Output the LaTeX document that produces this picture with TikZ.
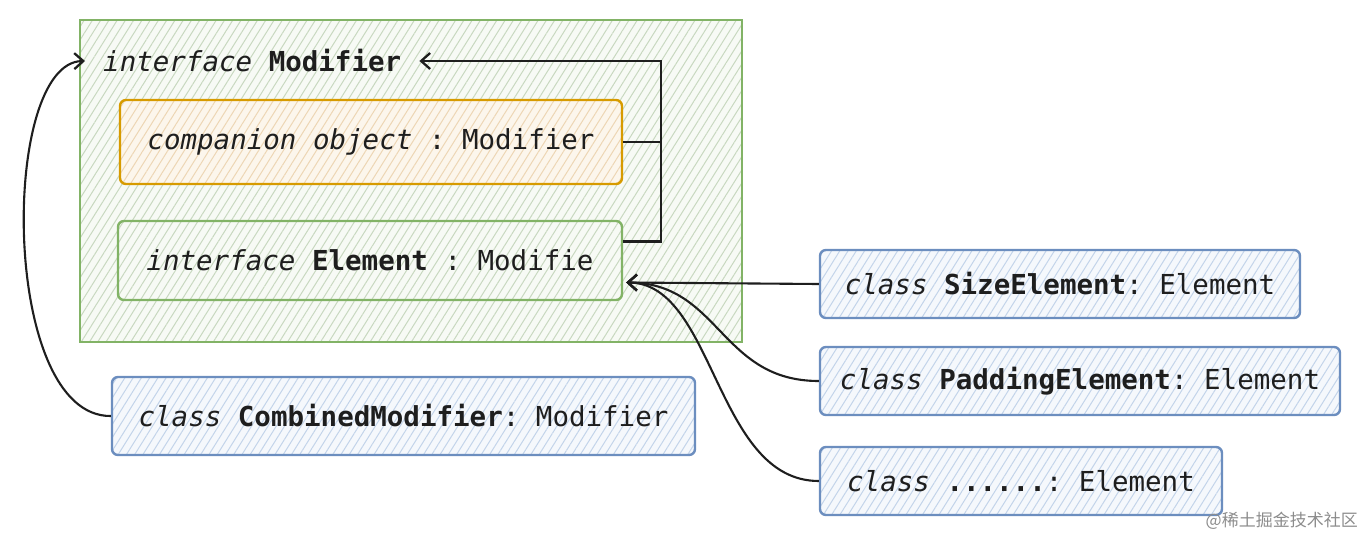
\documentclass[tikz,border=0pt]{standalone}
\usepackage{fontspec}
\setmonofont{DejaVu Sans Mono}
\newfontfamily\cjkfont{Noto Sans CJK SC}
\usetikzlibrary{arrows.meta,patterns.meta,calc}
\definecolor{gstroke}{HTML}{82B366}
\definecolor{gfill}{HTML}{F7FAF5}
\definecolor{ghatch}{HTML}{C8D8C0}
\definecolor{ostroke}{HTML}{D79B00}
\definecolor{ofill}{HTML}{FCF6EC}
\definecolor{ohatch}{HTML}{EDD6B4}
\definecolor{bstroke}{HTML}{6C8EBF}
\definecolor{bfill}{HTML}{F5F8FC}
\definecolor{bhatch}{HTML}{C3D4EA}
\definecolor{ink}{HTML}{1E1E1E}
\newcommand{\codefont}{\fontsize{27.5}{33}\selectfont\ttfamily}
\begin{document}
\begin{tikzpicture}[x=1pt,y=-1pt,
  every node/.style={text=ink},
  hatch/.style={pattern={Lines[angle=58,distance=7pt,line width=1pt]}, pattern color=#1},
  box/.style={draw, line width=2.4pt, rounded corners=6pt, font=\codefont, inner sep=0pt},
  gbox/.style={box, draw=gstroke, preaction={fill=gfill}, hatch=ghatch},
  obox/.style={box, draw=ostroke, preaction={fill=ofill}, hatch=ohatch},
  bbox/.style={box, draw=bstroke, preaction={fill=bfill}, hatch=bhatch},
  container/.style={draw=gstroke, line width=1.6pt, preaction={fill=gfill}, hatch=ghatch, inner sep=0pt},
  conn/.style={draw=ink, line width=2.1pt},
  tip/.style={-{Straight Barb[length=9pt,width=16pt,line width=2.3pt]}}
]
\useasboundingbox (0,0) rectangle (1364,538);

% container
\node[container, minimum width=662pt, minimum height=322pt] (cont) at (411,181) {};
\node[font=\codefont, anchor=west, inner xsep=18pt, inner ysep=2pt] (mod) at (85,61) {\textit{interface} \textbf{Modifier}};

% inner boxes
\node[obox, minimum width=502pt, minimum height=84pt] (comp) at (371,142) {\textit{companion object} : Modifier};
\node[gbox, minimum width=504pt, minimum height=79pt] (elem) at (370,260.5) {\textit{interface} \textbf{Element} : Modifie};

% element classes
\node[bbox, minimum width=480pt, minimum height=68pt] (size) at (1060,284) {\textit{class} \textbf{SizeElement}: Element};
\node[bbox, minimum width=520pt, minimum height=68pt] (pad) at (1080,381) {\textit{class} \textbf{PaddingElement}: Element};
\node[bbox, minimum width=402pt, minimum height=68pt] (dots) at (1021,481) {\textit{class} \textbf{......}: Element};
\node[bbox, minimum width=583pt, minimum height=78pt] (comb) at (403.5,416) {\textit{class} \textbf{CombinedModifier}: Modifier};

% connectors
\coordinate (jn) at ([xshift=38pt]comp.east);
\coordinate (etip) at ([yshift=-22pt,xshift=3pt]elem.east);
\draw[conn,tip] (comp.east) -- (jn) |- (mod.east);
\draw[conn] ([yshift=19pt]elem.east) -| (jn);
\draw[conn,tip] (size.west) -- (etip);
\draw[conn,tip] (pad.west) .. controls (720,381) and (720,283) .. (etip);
\draw[conn,tip] (dots.west) .. controls (715,481) and (715,283) .. (etip);
\draw[conn,tip] (comb.west) .. controls (0,417) and (0,62) .. (mod.west);

% watermark
\node[text=black!45, font=\cjkfont\fontsize{17}{20}\selectfont, anchor=east, inner sep=0pt] (wm) at (1358,521) {@稀土掘金技术社区};
\end{tikzpicture}
\end{document}
